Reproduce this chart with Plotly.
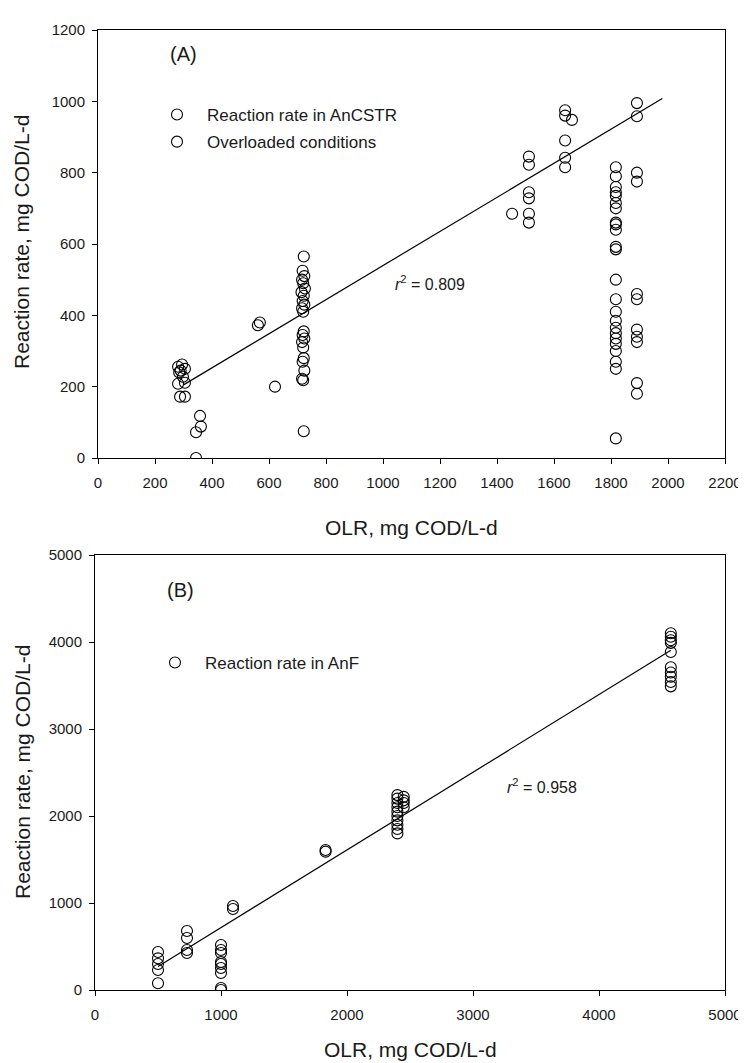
import plotly.graph_objects as go

# ---------------- Panel A data ----------------
a_cstr_x = [281, 295, 305, 281, 298, 305, 288, 305, 290, 285,
            561, 568,
            722, 718, 724, 716, 720, 726, 714, 722, 718, 724, 716, 720, 722, 718, 724, 716, 720, 722, 718, 724, 716, 720,
            1453, 1512, 1512, 1512, 1512, 1512, 1512,
            1639, 1639, 1663, 1639, 1639, 1639,
            1817, 1817, 1817, 1817, 1817, 1817, 1817, 1817, 1817, 1817, 1817, 1817,
            1817, 1817, 1817, 1817, 1817, 1817, 1817, 1817, 1817, 1817, 1817, 1817,
            1891, 1891, 1891, 1891, 1891, 1891, 1891, 1891, 1891, 1891, 1891]
a_cstr_y = [256, 262, 250, 208, 228, 211, 172, 172, 245, 240,
            372, 380,
            565, 525, 510, 500, 490, 475, 465, 455, 440, 430, 420, 410, 355, 345, 335, 325, 310, 280, 270, 245, 222, 218,
            685, 845, 822, 745, 728, 685, 660,
            975, 960, 948, 890, 842, 815,
            815, 790, 760, 745, 735, 715, 700, 660, 655, 640, 592, 585,
            500, 445, 410, 385, 365, 350, 335, 320, 300, 270, 250, 55,
            995, 958, 800, 775, 460, 445, 360, 340, 325, 210, 180]
a_over_x = [344, 344, 361, 358, 621, 722]
a_over_y = [0, 72, 88, 118, 200, 75]
a_fit_x = [300, 1980]
a_fit_y = [205, 1008]

# ---------------- Panel B data ----------------
b_x = [500, 500, 500, 500, 500,
       730, 730, 730, 730,
       1000, 1000, 1000, 1000, 1000, 1000, 1000, 1000, 1000,
       1095, 1095,
       1830, 1830,
       2400, 2400, 2400, 2400, 2400, 2400, 2400, 2400, 2400, 2400,
       2450, 2450, 2450, 2450,
       4570, 4570, 4570, 4570, 4570, 4570, 4570, 4570, 4570, 4570]
b_y = [437, 364, 299, 230, 77,
       678, 598, 460, 425,
       517, 460, 425, 322, 299, 253, 195, 23, 0,
       966, 931,
       1610, 1590,
       2240, 2200, 2150, 2100, 2050, 2000, 1950, 1900, 1850, 1800,
       2220, 2180, 2150, 2100,
       4100, 4060, 4020, 3990, 3885, 3710, 3650, 3600, 3540, 3490]
b_fit_x = [500, 4570]
b_fit_y = [270, 3905]

FONT = "Liberation Sans, Arial, sans-serif"
TXT = "#1a1a1a"
mk = dict(symbol="circle-open", size=11, color="black", line=dict(width=1.1, color="black"))

fig = go.Figure()
fig.add_trace(go.Scatter(x=a_fit_x, y=a_fit_y, mode="lines", line=dict(color="black", width=1.2),
                         showlegend=False, xaxis="x", yaxis="y"))
fig.add_trace(go.Scatter(x=a_cstr_x, y=a_cstr_y, mode="markers", marker=mk, name="Reaction rate in AnCSTR",
                         legend="legend", legendgroup="a1", xaxis="x", yaxis="y"))
fig.add_trace(go.Scatter(x=a_over_x, y=a_over_y, mode="markers", marker=mk, name="Overloaded conditions",
                         legend="legend", legendgroup="a2", xaxis="x", yaxis="y"))
fig.add_trace(go.Scatter(x=b_fit_x, y=b_fit_y, mode="lines", line=dict(color="black", width=1.2),
                         showlegend=False, xaxis="x2", yaxis="y2"))
fig.add_trace(go.Scatter(x=b_x, y=b_y, mode="markers", marker=mk, name="Reaction rate in AnF",
                         legend="legend2", xaxis="x2", yaxis="y2"))

# page has an 8px body margin: the figure is drawn 8px in from the top-left
OFF = 8
W, H = 738, 1055


def xp(P):
    return (P - OFF) / W


def yp(P):
    return 1 - (P - OFF) / H


axis_common = dict(showgrid=False, zeroline=False, showline=True, linecolor="black", linewidth=1,
                   mirror=True, ticks="outside", ticklen=5, tickwidth=1, tickcolor="black",
                   tickfont=dict(family=FONT, size=15, color=TXT), automargin=False,
                   ticklabeloverflow="allow")

fig.update_layout(
    width=W, height=H, plot_bgcolor="white", paper_bgcolor="white",
    margin=dict(l=0, r=0, t=0, b=0),
    font=dict(family=FONT, color=TXT),
    xaxis=dict(domain=[xp(98), xp(725)], range=[0, 2200], dtick=200, anchor="y",
               ticklabelstandoff=6, **axis_common),
    yaxis=dict(domain=[yp(458), yp(30)], range=[0, 1200], dtick=200, anchor="x",
               ticklabelstandoff=4, **axis_common),
    xaxis2=dict(domain=[xp(95), xp(725)], range=[0, 5000], dtick=1000, anchor="y2",
                ticklabelstandoff=6, **axis_common),
    yaxis2=dict(domain=[yp(990), yp(555)], range=[0, 5000], dtick=1000, anchor="x2",
                ticklabelstandoff=4, **axis_common),
    legend=dict(x=xp(147), y=yp(97), xanchor="left", yanchor="top", bgcolor="rgba(0,0,0,0)",
                itemwidth=50, font=dict(family=FONT, size=17, color=TXT),
                tracegroupgap=2, traceorder="grouped"),
    legend2=dict(x=xp(145), y=yp(645), xanchor="left", yanchor="top", bgcolor="rgba(0,0,0,0)",
                 itemwidth=50, font=dict(family=FONT, size=17, color=TXT)),
)


def A(**kw):
    d = dict(showarrow=False, xanchor="center", yanchor="middle")
    d.update(kw)
    return d


ann = [
    A(x=300, y=1133, xref="x", yref="y", text="(A)", font=dict(size=20, family=FONT, color=TXT)),
    A(x=1035, y=491, xref="x", yref="y", text="<i>r</i><sup>2</sup> = 0.809", xanchor="left",
      font=dict(size=16, family=FONT, color=TXT)),
    A(x=675, y=4600, xref="x2", yref="y2", text="(B)", font=dict(size=20, family=FONT, color=TXT)),
    A(x=3250, y=2350, xref="x2", yref="y2", text="<i>r</i><sup>2</sup> = 0.958", xanchor="left",
      font=dict(size=16, family=FONT, color=TXT)),
    A(x=xp(22), y=yp(242), xref="paper", yref="paper", text="Reaction rate, mg COD/L-d", textangle=-90,
      font=dict(size=21, family=FONT, color=TXT)),
    A(x=xp(22), y=yp(772), xref="paper", yref="paper", text="Reaction rate, mg COD/L-d", textangle=-90,
      font=dict(size=21, family=FONT, color=TXT)),
    A(x=xp(411), y=yp(527), xref="paper", yref="paper", text="OLR, mg COD/L-d",
      font=dict(size=21, family=FONT, color=TXT)),
    A(x=xp(410), y=yp(1049), xref="paper", yref="paper", text="OLR, mg COD/L-d",
      font=dict(size=21, family=FONT, color=TXT)),
]
fig.update_layout(annotations=ann)

fig.write_html("out.html")
